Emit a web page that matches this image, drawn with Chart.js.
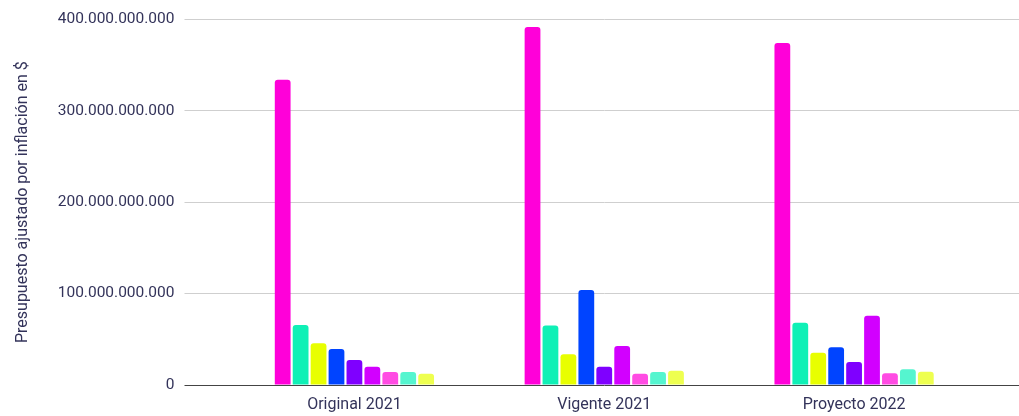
<!DOCTYPE html>
<html>
<head>
<meta charset="utf-8">
<script src="https://cdn.jsdelivr.net/npm/chart.js@4/dist/chart.umd.min.js"></script>
<style>
    html, body { margin: 0; padding: 0; background: #fff; }
    #wrap { width: 1019px; height: 416px; }
</style>
</head>
<body>
<div id="wrap"><canvas id="budgetChart"></canvas></div>
<script>
// Data (pesos, inflation adjusted)
const categories = ['Original 2021', 'Vigente 2021', 'Proyecto 2022'];
const seriesNames = ['Serie 1', 'Serie 2', 'Serie 3', 'Serie 4', 'Serie 5', 'Serie 6', 'Serie 7', 'Serie 8', 'Serie 9'];
const serie1 = [334e9, 391.5e9, 374e9];
const serie2 = [65.5e9, 65.2e9, 68e9];
const serie3 = [45.6e9, 33.5e9, 35.3e9];
const serie4 = [39.3e9, 103.8e9, 41.2e9];
const serie5 = [27.3e9, 20e9, 25.1e9];
const serie6 = [20e9, 42.6e9, 75.8e9];
const serie7 = [14.2e9, 12.4e9, 12.8e9];
const serie8 = [14.2e9, 14.2e9, 17.2e9];
const serie9 = [12.4e9, 15.7e9, 14.5e9];
const yTicks = [0, 100e9, 200e9, 300e9, 400e9];

const colors = ['#ff00d9', '#0ff0b6', '#e8ff00', '#0044ff', '#7f00ff', '#d200ff', '#ff4be3', '#55f5cf', '#eeff4f'];
const textColor = '#33335a';
const allSeries = [serie1, serie2, serie3, serie4, serie5, serie6, serie7, serie8, serie9];

const fmt = v => String(Math.round(v)).replace(/\B(?=(\d{3})+(?!\d))/g, '.');

// Grid lines in the reference run past the plot area to the right edge
const extendGrid = {
    id: 'extendGrid',
    beforeDatasetsDraw(chart) {
        const { ctx, chartArea, scales } = chart;
        ctx.save();
        yTicks.forEach(v => {
            const y = Math.round(scales.y.getPixelForValue(v) - 0.5) + 0.5;
            ctx.strokeStyle = v === 0 ? '#444' : '#cfcfcf';
            ctx.lineWidth = 1;
            ctx.beginPath();
            ctx.moveTo(chartArea.right, y);
            ctx.lineTo(chart.width, y);
            ctx.stroke();
        });
        ctx.restore();
    }
};

new Chart(document.getElementById('budgetChart'), {
    type: 'bar',
    data: {
        labels: categories,
        datasets: allSeries.map((d, i) => ({
            label: seriesNames[i],
            data: d,
            backgroundColor: colors[i],
            borderRadius: 3,
            borderSkipped: 'bottom',
            categoryPercentage: 0.646,
            barPercentage: 0.88
        }))
    },
    options: {
        responsive: true,
        maintainAspectRatio: false,
        animation: false,
        layout: { padding: { top: 19, right: 40, bottom: 0, left: 0 } },
        plugins: {
            legend: { display: false },
            tooltip: { enabled: false }
        },
        scales: {
            x: {
                afterFit: s => { s.height = 31; },
                grid: { display: false, drawTicks: false },
                border: { display: false },
                ticks: {
                    color: textColor,
                    padding: 10,
                    font: { family: 'Roboto', size: 16 }
                }
            },
            y: {
                min: 0,
                max: 400e9,
                afterFit: s => { s.width = 229.5; },
                afterBuildTicks: s => { s.ticks = yTicks.map(v => ({ value: v })); },
                grid: {
                    color: c => (c.tick && c.tick.value === 0 ? '#444' : '#cfcfcf'),
                    tickLength: 45
                },
                border: { display: false },
                ticks: {
                    color: textColor,
                    padding: 10,
                    font: { family: 'Roboto', size: 15.5 },
                    callback: v => fmt(v)
                },
                title: {
                    display: true,
                    text: 'Presupuesto ajustado por inflación en $',
                    color: textColor,
                    font: { family: 'Roboto', size: 16 },
                    padding: { top: 13, bottom: 0 }
                }
            }
        }
    },
    plugins: [extendGrid]
});
</script>
</body>
</html>
